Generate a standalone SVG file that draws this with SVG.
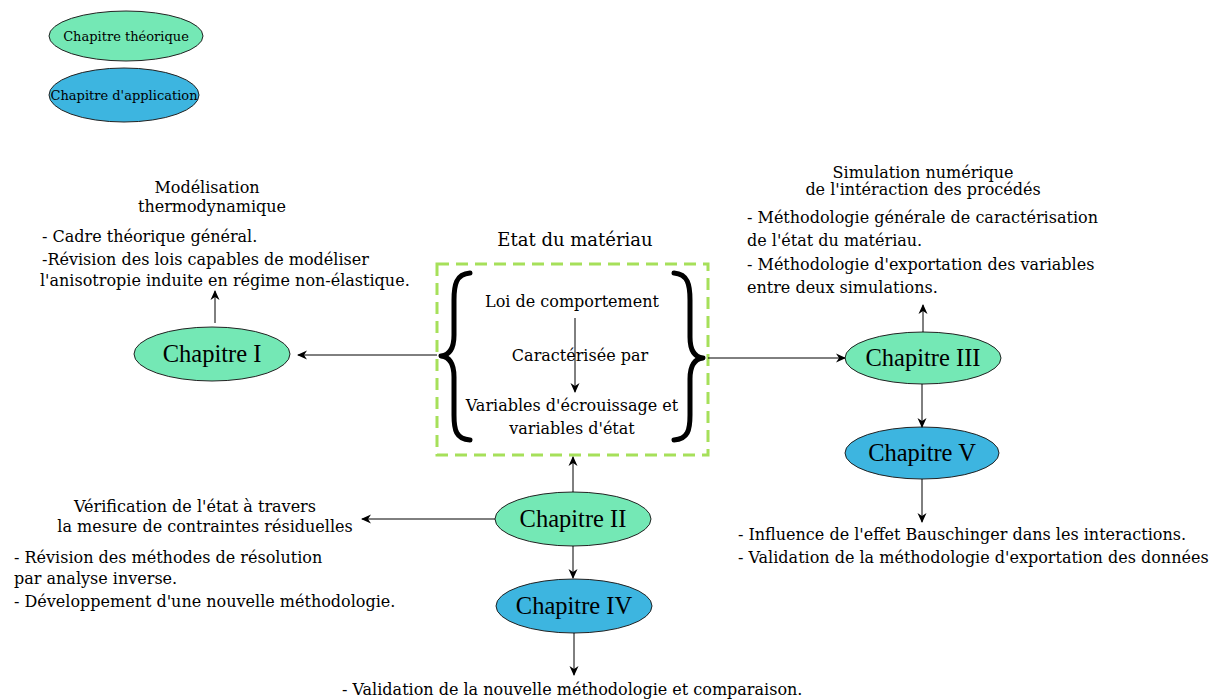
<svg xmlns="http://www.w3.org/2000/svg" width="1212" height="700" viewBox="0 0 1212 700">
<defs>
<marker id="ah" viewBox="0 0 10 10" refX="9" refY="5" markerWidth="10" markerHeight="10" markerUnits="userSpaceOnUse" orient="auto">
<path d="M0,0.5 L10,5 L0,9.5 L3,5 Z" fill="#000"/>
</marker>
<style>
.t{font-family:"DejaVu Serif","Liberation Serif",serif;font-size:16px;fill:#000}
.c{font-family:"Liberation Serif","DejaVu Serif",serif;font-size:24.5px;fill:#000;text-anchor:middle}
.m{text-anchor:middle}
.th{fill:#74e8b5;stroke:#222;stroke-width:1}
.ap{fill:#3db5e0;stroke:#222;stroke-width:1}
.e{stroke:#000;stroke-width:1;fill:none;marker-end:url(#ah)}
.br{stroke:#000;stroke-width:5;fill:none;stroke-linecap:round;stroke-linejoin:round}
</style>
</defs>
<rect width="1212" height="700" fill="#fff"/>
<g id="legend-theorique"><ellipse class="th" cx="126" cy="36" rx="77" ry="25"/><text class="t m" x="126" y="41" style="font-size:13px">Chapitre théorique</text></g>
<g id="legend-application"><ellipse class="ap" cx="124" cy="95" rx="75" ry="27"/><text class="t m" x="124" y="100" style="font-size:13px">Chapitre d'application</text></g>
<g id="etat">
<rect x="437" y="264" width="271" height="191" fill="none" stroke="#a6e05a" stroke-width="3" stroke-dasharray="12,7"/>
<text class="t m" x="575" y="246" style="font-size:18px">Etat du matériau</text>
<path class="br" d="M470,273 C456,274 454,285 454,300 L454,335 C454,348 450,355 441,356 C450,357 454,364 454,377 L454,415 C454,430 456,439 470,440"/>
<path class="br" d="M674,273 C688,274 690,285 690,300 L690,337 C690,350 694,357 703,358 C694,359 690,366 690,379 L690,415 C690,430 688,439 674,440"/>
<text class="t m" x="572" y="307">Loi de comportement</text>
<text class="t m" x="580" y="361">Caractérisée par</text>
<text class="t m" x="572" y="411">Variables d'écrouissage et</text>
<text class="t m" x="572" y="434">variables d'état</text>
</g>
<g id="ch1"><ellipse class="th" cx="212" cy="354" rx="78" ry="27"/><text class="c" x="212" y="362">Chapitre I</text></g>
<g id="ch2"><ellipse class="th" cx="573" cy="519" rx="78" ry="27"/><text class="c" x="573" y="527">Chapitre II</text></g>
<g id="ch3"><ellipse class="th" cx="923" cy="358" rx="78" ry="26"/><text class="c" x="923" y="366">Chapitre III</text></g>
<g id="ch4"><ellipse class="ap" cx="574" cy="606" rx="78" ry="27"/><text class="c" x="574" y="614">Chapitre IV</text></g>
<g id="ch5"><ellipse class="ap" cx="922" cy="453" rx="77" ry="26"/><text class="c" x="922" y="461">Chapitre V</text></g>
<g id="txt-ch1">
<text class="t m" x="207" y="193">Modélisation</text>
<text class="t m" x="212" y="212">thermodynamique</text>
<text class="t" x="42" y="242">- Cadre théorique général.</text>
<text class="t" x="42" y="265">-Révision des lois capables de modéliser</text>
<text class="t" x="40" y="286">l'anisotropie induite en régime non-élastique.</text>
</g>
<g id="txt-ch3">
<text class="t m" x="923" y="178">Simulation numérique</text>
<text class="t m" x="923" y="195">de l'intéraction des procédés</text>
<text class="t" x="747" y="223">- Méthodologie générale de caractérisation</text>
<text class="t" x="747" y="246">de l'état du matériau.</text>
<text class="t" x="747" y="270">- Méthodologie d'exportation des variables</text>
<text class="t" x="747" y="293">entre deux simulations.</text>
</g>
<g id="txt-ch5">
<text class="t" x="738" y="540">- Influence de l'effet Bauschinger dans les interactions.</text>
<text class="t" x="738" y="563">- Validation de la méthodologie d'exportation des données</text>
</g>
<g id="txt-ch2">
<text class="t m" x="195" y="512">Vérification de l'état à travers</text>
<text class="t m" x="205" y="532">la mesure de contraintes résiduelles</text>
<text class="t" x="14" y="563">- Révision des méthodes de résolution</text>
<text class="t" x="14" y="584">par analyse inverse.</text>
<text class="t" x="14" y="607">- Développement d'une nouvelle méthodologie.</text>
</g>
<g id="txt-ch4">
<text class="t" x="342" y="695">- Validation de la nouvelle méthodologie et comparaison.</text>
</g>
<g id="connectors">
<line class="e" x1="437" y1="355" x2="298" y2="355"/>
<line class="e" x1="708" y1="358" x2="845" y2="358"/>
<line class="e" x1="215" y1="323" x2="215" y2="291"/>
<line class="e" x1="923" y1="332" x2="923" y2="305"/>
<line class="e" x1="922" y1="384" x2="922" y2="427"/>
<line class="e" x1="922" y1="479" x2="922" y2="522"/>
<line class="e" x1="573" y1="492" x2="573" y2="457"/>
<line class="e" x1="495" y1="519" x2="362" y2="519"/>
<line class="e" x1="573" y1="546" x2="573" y2="578"/>
<line class="e" x1="574" y1="633" x2="574" y2="675"/>
<line class="e" x1="575" y1="318" x2="575" y2="392"/>
</g>
</svg>
